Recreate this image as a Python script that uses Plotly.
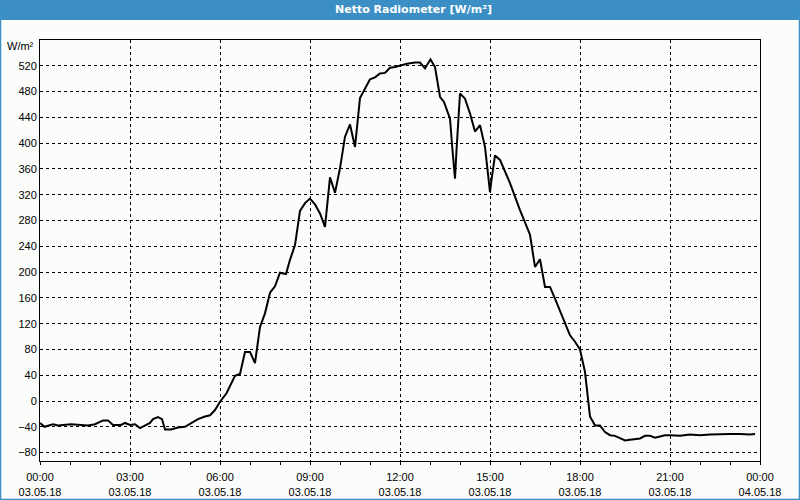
import plotly.graph_objects as go

# ---- data (03.05.2018, W/m²) ----
times = [
    "00:00", "00:09", "00:26", "00:36", "01:02", "01:36", "01:50", "02:06", "02:16", "02:26",
    "02:42", "02:50", "03:00", "03:10", "03:20", "03:30", "03:40", "03:46", "03:56", "04:04",
    "04:10", "04:22", "04:36", "04:50", "05:02", "05:16", "05:30", "05:40", "05:50", "06:00",
    "06:13", "06:30", "06:40", "06:50", "07:00", "07:10", "07:20", "07:30", "07:40", "07:50",
    "08:00", "08:12", "08:20", "08:30", "08:40", "08:50", "09:00", "09:10", "09:20", "09:30",
    "09:40", "09:50", "10:00", "10:10", "10:20", "10:30", "10:40", "10:50", "11:00", "11:10",
    "11:20", "11:30", "11:40", "11:50", "12:00", "12:14", "12:30", "12:40", "12:50", "13:01",
    "13:10", "13:20", "13:28", "13:40", "13:45", "13:50", "13:53", "14:00", "14:10", "14:20",
    "14:30", "14:40", "14:50", "14:57", "15:00", "15:03", "15:10", "15:20", "15:40", "16:00",
    "16:20", "16:30", "16:40", "16:50", "17:00", "17:10", "17:30", "17:40", "17:50", "18:00",
    "18:10", "18:20", "18:30", "18:40", "18:50", "19:00", "19:10", "19:20", "19:30", "19:40",
    "19:50", "20:00", "20:10", "20:20", "20:30", "20:40", "20:50", "21:00", "21:20", "21:40",
    "22:00", "22:20", "22:40", "23:00", "23:20", "23:40", "23:50",
]
values = [
    -34, -40, -36, -38, -36, -38, -36, -30, -30, -37,
    -37, -34, -37, -36, -42, -38, -34, -28, -25, -28,
    -44, -44, -41, -40, -35, -28, -24, -22, -14, -1,
    12, 39, 42, 76, 76, 59, 115, 136, 168, 178,
    199, 197, 219, 242, 295, 307, 314, 305, 291, 270,
    347, 323, 361, 410, 429, 394, 470, 485, 499, 502,
    508, 509, 517, 518, 520, 523, 525, 525, 516, 530,
    518, 472, 464, 438, 389, 345, 389, 477, 469, 446,
    418, 428, 394, 348, 324, 343, 381, 374, 338, 296,
    258, 208, 220, 177, 177, 159, 120, 102, 92, 80,
    45, -24, -38, -38, -48, -53, -54, -58, -61, -60,
    -59, -58, -54, -54, -57, -55, -53, -53, -54, -52,
    -53, -52, -51, -51, -51, -52, -51,
]
day = "2018-05-03"
x_start, x_end = "2018-05-03 00:00", "2018-05-04 00:00"
y_ticks = list(range(-80, 521, 40))
title_text = "Netto Radiometer [W/m²]"
unit_text = "W/m²"

x_vals = [f"{day} {t}" for t in times]

BG = "#fbfdfb"
BLUE = "#3b8fc4"

fig = go.Figure()
fig.add_trace(go.Scatter(
    x=x_vals, y=values, mode="lines",
    line=dict(color="black", width=2),
    hoverinfo="skip", showlegend=False,
))

W, H = 800, 500
L, R, T, B = 40, 40, 40, 39
pw, ph = W - L - R, H - T - B


def px(xp):
    return (xp - L) / pw


def py(yp):
    return (H - B - yp) / ph


shapes = [
    # title bar
    dict(type="rect", xref="paper", yref="paper",
         x0=px(0), x1=px(W), y0=py(20), y1=py(-1),
         fillcolor=BLUE, line=dict(width=0), layer="above"),
    # outer blue frame
    dict(type="rect", xref="paper", yref="paper",
         x0=px(0.5), x1=px(W - 0.5), y0=py(H - 0.5), y1=py(10),
         fillcolor="rgba(0,0,0,0)", line=dict(color=BLUE, width=1.5), layer="above"),
]

annotations = [
    dict(text=f"<b>{title_text}</b>", xref="paper", yref="paper",
         x=px(413), y=py(10), xanchor="center", yanchor="middle",
         showarrow=False, font=dict(family="DejaVu Sans", size=11, color="white")),
    dict(text=unit_text, xref="paper", yref="paper",
         x=px(36), y=py(46), xanchor="right", yanchor="middle",
         showarrow=False, font=dict(family="Liberation Sans", size=11, color="black")),
]

fig.update_layout(
    width=W, height=H,
    margin=dict(l=L, r=R, t=T, b=B, pad=0, autoexpand=False),
    paper_bgcolor=BG, plot_bgcolor=BG,
    shapes=shapes, annotations=annotations,
    font=dict(family="Liberation Sans", size=11, color="black"),
    showlegend=False,
)
fig.update_xaxes(
    type="date", range=[x_start, x_end],
    dtick=3 * 3600 * 1000, tick0=x_start,
    tickformat="%H:%M<br>%d.%m.%y",
    ticks="outside", ticklen=3, tickcolor="black", tickwidth=1,
    ticklabelstandoff=3,
    minor=dict(dtick=3600 * 1000, ticks="outside", ticklen=3, tickcolor="black", showgrid=False),
    showgrid=True, gridcolor="black", gridwidth=1, griddash="3px,3px",
    showline=True, linecolor="black", linewidth=1, mirror=True,
    zeroline=False, fixedrange=True, automargin=False,
)
fig.update_yaxes(
    range=[-93, 560], tickvals=y_ticks,
    ticks="", showgrid=True, gridcolor="black", gridwidth=1, griddash="3px,3px",
    showline=True, linecolor="black", linewidth=1, mirror=True,
    zeroline=False, fixedrange=True, automargin=False,
)

fig.write_html(
    "out.html",
    config={"displayModeBar": False},
    post_script="document.body.style.margin='0px';document.body.style.background='%s';" % BG,
)
